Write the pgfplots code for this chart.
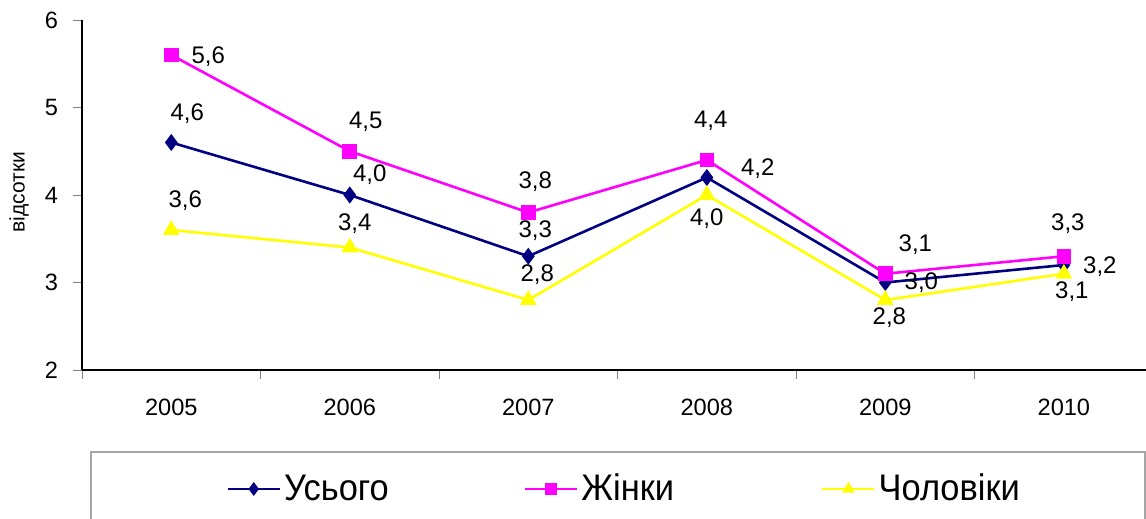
\documentclass[border=0pt]{standalone}
\usepackage{pgfplots}
\pgfplotsset{compat=1.18}
\usepackage{pgfplotstable}
\usepackage{fontspec}
\setmainfont{Liberation Sans}
\newfontfamily\legfont[FakeStretch=0.93]{Liberation Sans}
\definecolor{cnavy}{RGB}{0,0,128}
\definecolor{cmag}{RGB}{255,0,255}
\definecolor{cyel}{RGB}{255,255,0}
\definecolor{cframe}{RGB}{165,165,165}

\pgfplotstableread{
x y dx dy
0 4.6 8 14.5
1 4.0 10 10
2 3.3 3.5 13
3 4.2 25.5 4.5
4 3.0 18 0
5 3.2 18 -1
}\tot
\pgfplotstableread{
x y dx dy
0 5.6 18.5 -1
1 4.5 8 14.5
2 3.8 3.5 15.5
3 4.4 2 19.5
4 3.1 15 14.5
5 3.3 2 16.5
}\wom
\pgfplotstableread{
x y dx dy
0 3.6 7 14.5
1 3.4 2.5 12
2 2.8 4.5 12.5
3 4.0 0 -12
4 2.8 2 -9
5 3.1 4 -9
}\men

\begin{document}
\begin{tikzpicture}
\useasboundingbox (0,0) rectangle (573pt,259.5pt);
\clip (0,0) rectangle (573pt,259.5pt);
\draw[cframe, line width=0.75pt] (45.5pt,-10pt) rectangle (572.5pt,33.5pt);
\begin{axis}[
  at={(41pt,74.5pt)}, anchor=south west,
  scale only axis, width=532pt, height=175pt,
  xmin=-0.5, xmax=5.46, ymin=2, ymax=6,
  axis lines*=left,
  axis line style={line width=0.6pt},
  ytick={2,3,4,5,6},
  xtick={-0.5,0.5,1.5,2.5,3.5,4.5}, xticklabels={},
  extra x ticks={0,1,2,3,4,5},
  extra x tick labels={2005,2006,2007,2008,2009,2010},
  extra x tick style={major tick length=0pt},
  tick align=outside, major tick length=4.5pt,
  xtick style={gray},
  tick label style={font=\fontsize{11.8}{13}\selectfont},
  /pgf/number format/assume math mode=true,
  yticklabel style={xshift=-4pt},
  xticklabel style={yshift=-11pt},
  ylabel={відсотки},
  ylabel style={font=\fontsize{10.5}{12}\selectfont, at={(axis description cs:-0.0592,0.5086)}, anchor=center},
  legend style={at={(axis description cs:0.1354,-0.3400)}, anchor=west, draw=none, fill=none, inner sep=0pt,
    font=\legfont\fontsize{18.5}{21}\selectfont,
    /tikz/every even column/.append style={column sep=66pt},
    nodes={inner xsep=1.5pt}},
  legend columns=3,
  legend image code/.code={\draw[mark repeat=2,mark phase=2,#1,mark size=2.4pt] plot coordinates {(0pt,0pt)(13pt,0pt)(26pt,0pt)};},
  nodes near coords={\pgfmathprintnumber[fixed,fixed zerofill,precision=1,use comma]{\pgfplotspointmeta}},
  visualization depends on={\thisrow{dx}\as\dx},
  visualization depends on={\thisrow{dy}\as\dy},
  nodes near coords style={anchor=center, xshift=\dx pt, yshift=\dy pt, text=black, font=\fontsize{12}{14}\selectfont},
]
\addplot[cnavy, line width=1.3pt, mark=diamond*, mark size=3.2pt, mark options={solid}] table[x=x,y=y] {\tot};
\addlegendentry{Усього}
\addplot[cmag, line width=1.3pt, mark=square*, mark size=3pt, mark options={solid}] table[x=x,y=y] {\wom};
\addlegendentry{Жінки\rule{6pt}{0pt}}
\addplot[cyel, line width=1.3pt, mark=triangle*, mark size=3.6pt, mark options={solid}] table[x=x,y=y] {\men};
\addlegendentry{Чоловіки}
\end{axis}
\end{tikzpicture}
\end{document}
